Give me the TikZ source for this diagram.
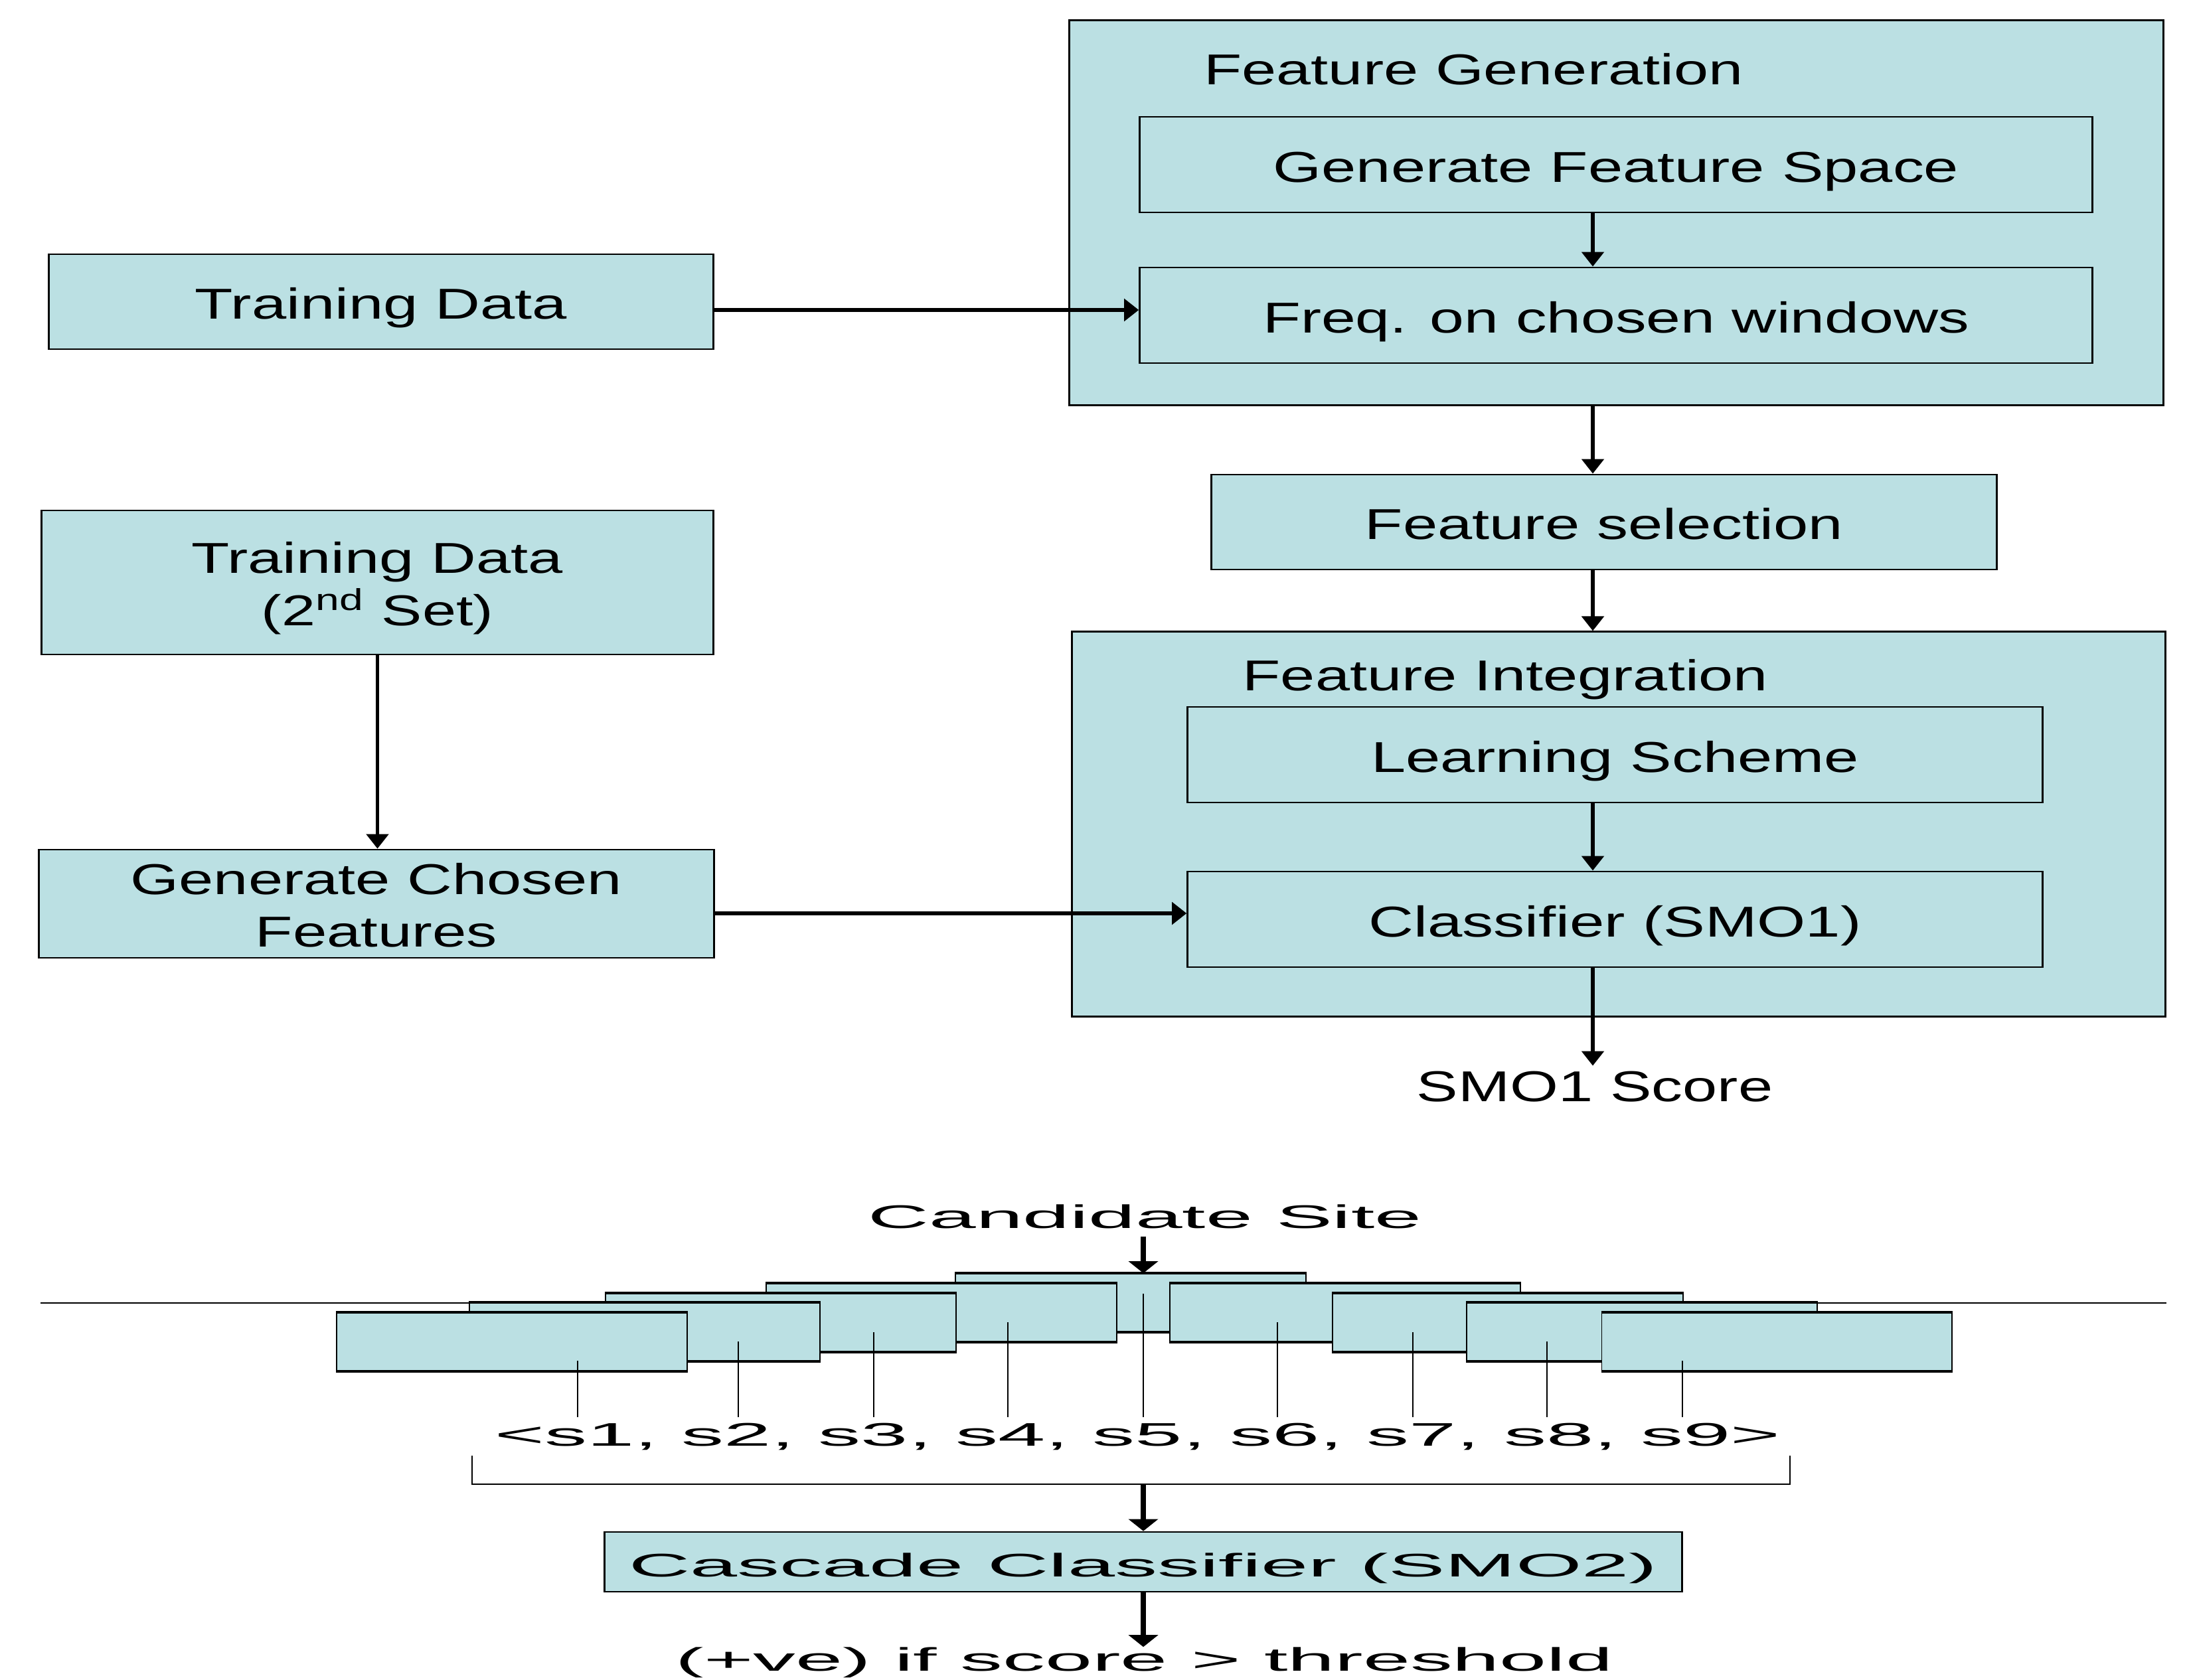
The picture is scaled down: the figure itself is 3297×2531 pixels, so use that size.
\documentclass[tikz,border=0pt]{standalone}
\usepackage{fontspec}
\setmainfont{Liberation Sans}
\usetikzlibrary{arrows.meta,positioning}
\definecolor{boxfill}{RGB}{187,224,227}
\newcommand{\wide}[2]{\resizebox{#1}{\height}{#2}}

\begin{document}
\begin{tikzpicture}[x=0.01cm,y=-0.01cm,
  box/.style={draw,fill=boxfill,line width=0.8pt,inner sep=0pt},
  txt/.style={font=\fontsize{18.5}{22.2}\selectfont,text height=15pt,text depth=0pt},
  txttwo/.style={font=\fontsize{18.5}{22.2}\selectfont,align=center,text height=40pt,text depth=3.3pt},
  small/.style={font=\fontsize{14}{17}\selectfont},
  arr/.style={line width=1.6pt,-{Triangle[width=3.3mm,length=2.2mm]}},
  arrbig/.style={line width=2.1pt,-{Triangle[width=4.4mm,length=1.8mm]}},
  tick/.style={line width=0.5pt},
  win/.style={draw,fill=boxfill,line width=0.5pt,minimum width=5.27cm,minimum height=0.87cm,inner sep=0pt},
  rim/.style={line width=1.3pt}]
\useasboundingbox (0,0) rectangle (3297,2531);

% feature generation
\node[box,minimum width=16.47cm,minimum height=5.80cm] (fgen) at (2434.5,320.5) {};
\node[txt,anchor=base west,inner sep=0pt] (fgentitle) at (1813,128) {\wide{8.11cm}{Feature Generation}};
\node[box,txt,minimum width=14.34cm,minimum height=1.44cm] (gfs) at (2434,248) {\wide{10.32cm}{Generate Feature Space}};
\node[box,txt,minimum width=14.34cm,minimum height=1.44cm] (freq) at (2434,475) {\wide{10.63cm}{Freq. on chosen windows}};
\node[box,txt,minimum width=10.01cm,minimum height=1.43cm] (tdata) at (574,454.5) {\wide{5.60cm}{Training Data}};
\node[box,txt,minimum width=11.82cm,minimum height=1.43cm] (fsel) at (2416,786.5) {\wide{7.20cm}{Feature selection}};

% feature integration
\node[box,minimum width=16.46cm,minimum height=5.79cm] (fint) at (2438,1241.5) {};
\node[txt,anchor=base west,inner sep=0pt] (finttitle) at (1871,1040) {\wide{7.91cm}{Feature Integration}};
\node[box,txt,minimum width=12.87cm,minimum height=1.44cm] (ls) at (2432.5,1137) {\wide{7.34cm}{Learning Scheme}};
\node[box,txt,minimum width=12.87cm,minimum height=1.44cm] (cls) at (2432.5,1385) {\wide{7.42cm}{Classifier (SMO1)}};
\node[txt,anchor=base,inner sep=0pt] (score) at (2402,1659) {\wide{5.36cm}{SMO1 Score}};

\node[box,txttwo,minimum width=10.11cm,minimum height=2.17cm] (td2) at (568.5,877.5) {\wide{5.59cm}{Training Data}\\\wide{3.49cm}{(2\textsuperscript{nd} Set)}};
\node[box,txttwo,minimum width=10.16cm,minimum height=1.63cm] (gcf) at (567,1361.5) {\wide{7.40cm}{Generate Chosen}\\\wide{3.64cm}{Features}};

\coordinate (ax) at (2399,0);
\draw[arr] (gfs.south -| ax) -- (freq.north -| ax);
\draw[arr] (fgen.south -| ax) -- (fsel.north -| ax);
\draw[arr] (fsel.south -| ax) -- (fint.north -| ax);
\draw[arr] (ls.south -| ax) -- (cls.north -| ax);
\draw[arr] (cls.south -| ax) -- (score.north -| ax);
\draw[arr] ([yshift=-1.25mm]tdata.east) -- ([yshift=-1.25mm]tdata.east -| freq.west);
\draw[arr] (td2.south) -- (td2.south |- gcf.north);
\draw[arr] ([yshift=-1.45mm]gcf.east) -- ([yshift=-1.45mm]gcf.east -| cls.west);

% cascade part
\coordinate (col) at (1722,0);
\coordinate (hl) at (61,1963);
\coordinate (hr) at (3263,1963);
\draw[line width=0.6pt] (hl) -- (hr);
\node[small,anchor=base,inner sep=1.2mm,text depth=0pt] (site) at (1724.5,1850) {\wide{8.33cm}{Candidate Site}};
\foreach \i/\cx/\cy in {5/1703/1962.5, 4/1418/1977.5, 6/2026/1977.5, 3/1176/1992.5, 7/2271/1992.5,
                       2/971/2006.5, 8/2473/2006.5, 1/771/2021.5, 9/2676/2021.5} {
  \node[win] (w\i) at (\cx,\cy) {};
  \draw[rim] (w\i.north west) -- (w\i.north east) (w\i.south west) -- (w\i.south east);
}
\draw[arrbig] (site.south -| col) -- (w5.north -| col);
\node[small,anchor=base,inner sep=0pt,text height=12pt] (seq) at (1713.5,2178) {\wide{19.35cm}{<s1, s2, s3, s4, s5, s6, s7, s8, s9>}};
\foreach \i/\tx/\ty in {1/870/2050, 2/1112/2021, 3/1316/2007, 4/1518/1992, 5/1722/1949,
                       6/1924/1992, 7/2128/2007, 8/2330/2021, 9/2534/2050} {
  \coordinate (t\i) at (\tx,\ty);
  \draw[tick] (t\i) -- (t\i |- seq.north);
}
\coordinate (bl) at (711,2193);
\coordinate (br) at (2696,2193);
\coordinate (bm) at (1722,2236);
\draw[line width=0.7pt] (bl) |- (bm) -| (br);
\node[box,small,text height=13pt,text depth=0pt,minimum width=16.22cm,minimum height=0.90cm] (cas) at (1722,2353) {\wide{15.48cm}{Cascade Classifier (SMO2)}};
\draw[arrbig] (bm) -- (bm |- cas.north);
\node[small,anchor=base,inner sep=0pt,text height=10pt] (res) at (1723.5,2517) {\wide{14.11cm}{(+ve) if score > threshold}};
\draw[arrbig] (cas.south -| col) -- (res.north -| col);
\end{tikzpicture}
\end{document}
